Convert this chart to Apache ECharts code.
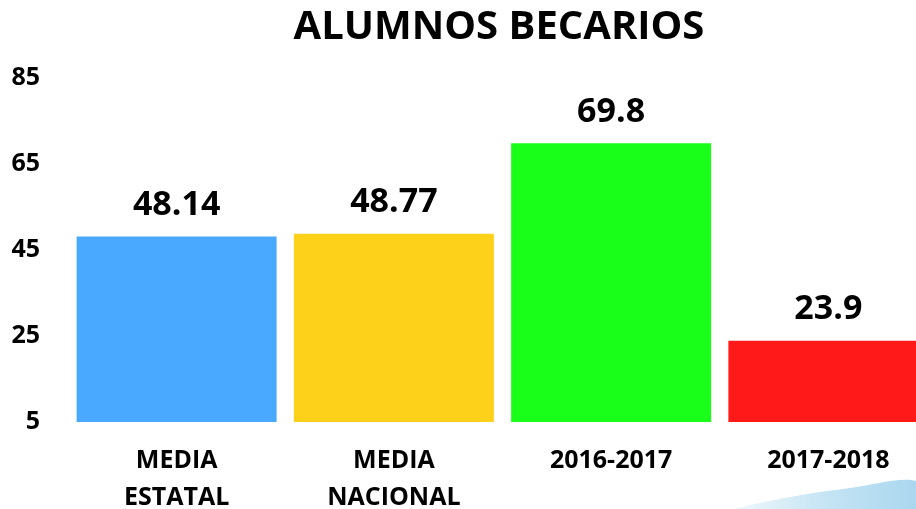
<!DOCTYPE html>
<html>
<head>
<meta charset="utf-8">
<script src="https://cdn.jsdelivr.net/npm/echarts@6/dist/echarts.min.js"></script>
<style>
  html, body { margin: 0; padding: 0; background: #fff; }
  #chart1 { width: 916px; height: 509px; }
</style>
</head>
<body>
<div id="chart1"></div>
<script>
  var categories = ["MEDIA\nESTATAL", "MEDIA\nNACIONAL", "2016-2017", "2017-2018"];
  var values = [48.14, 48.77, 69.8, 23.9];
  var barColors = ["#48A9FF", "#FDD019", "#19FF19", "#FF1919"];
  var yTicks = [5, 25, 45, 65, 85];

  var font = "'Open Sans', sans-serif";
  var chart1 = echarts.init(document.getElementById("chart1"));
  var option = {
    animation: false,
    // faint blue swoosh from the slide background, bottom right
    graphic: [
      {
        type: "polygon",
        z: -10,
        shape: {
          points: [[735, 510], [790, 497], [850, 488], [916, 481], [916, 510]],
          smooth: 0.3,
        },
        style: {
          fill: {
            type: "linear",
            x: 0, y: 0, x2: 1, y2: 0,
            colorStops: [
              { offset: 0, color: "rgba(200,230,245,0.3)" },
              { offset: 0.5, color: "#C4E4F4" },
              { offset: 1, color: "#A9D6EE" },
            ],
          },
        },
      },
    ],
    title: {
      text: "ALUMNOS BECARIOS",
      left: 494,
      top: 3,
      textAlign: "center",
      textStyle: {
        fontFamily: font,
        fontWeight: "bold",
        fontSize: 40,
        color: "#000",
      },
    },
    grid: {
      left: 68,
      right: -21,
      top: 78,
      bottom: 87,
      outerBoundsMode: "none",
    },
    xAxis: {
      type: "category",
      data: categories,
      axisLine: { show: false },
      axisTick: { show: false },
      axisLabel: {
        interval: 0,
        margin: 20,
        fontFamily: font,
        fontWeight: "bold",
        fontSize: 25,
        lineHeight: 37,
        color: "#000",
      },
    },
    yAxis: {
      type: "value",
      min: 5,
      max: 85,
      splitLine: { show: false },
      axisLine: { show: false },
      axisTick: { show: false },
      axisLabel: {
        customValues: yTicks,
        margin: 28,
        fontFamily: font,
        fontWeight: "bold",
        fontSize: 25,
        color: "#000",
      },
    },
    series: [
      {
        type: "bar",
        barWidth: 200,
        data: values.map(function (v, i) {
          return { value: v, itemStyle: { color: barColors[i] } };
        }),
        label: {
          show: true,
          position: "top",
          distance: 14,
          fontFamily: font,
          fontWeight: "bold",
          fontSize: 34,
          color: "#000",
        },
      },
    ],
  };
  chart1.setOption(option);
</script>
</body>
</html>
